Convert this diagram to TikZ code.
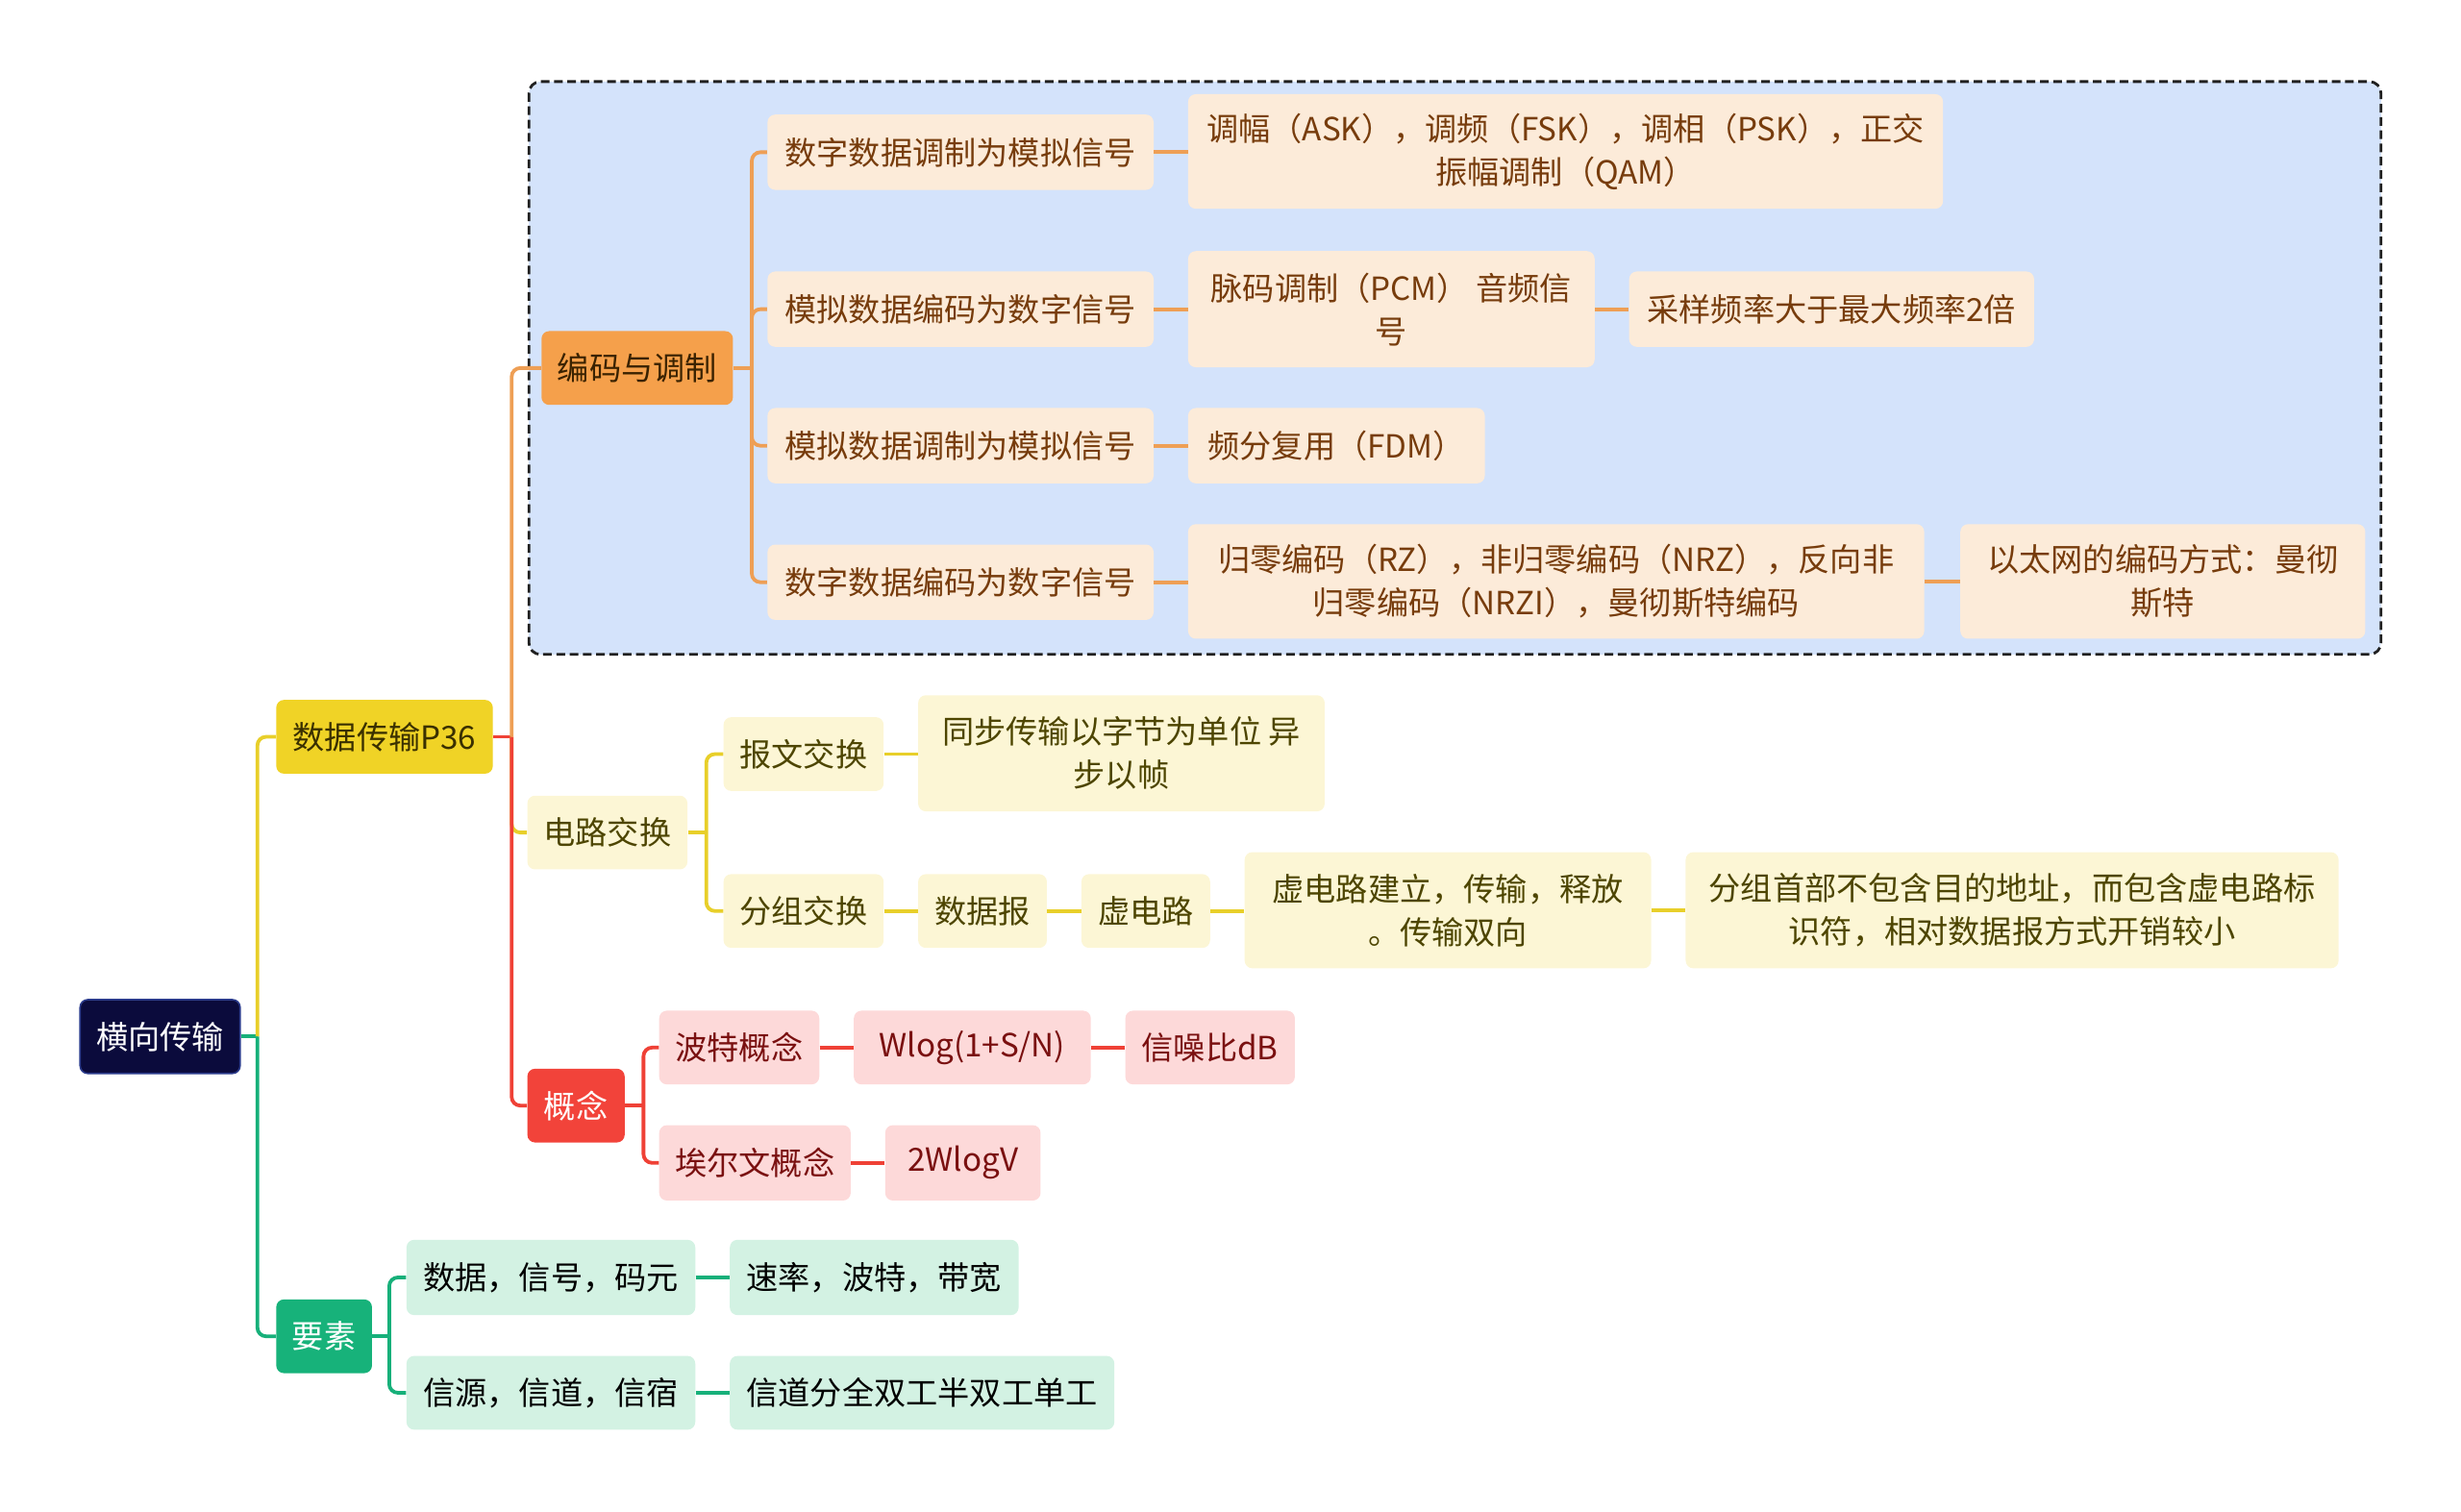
\documentclass[tikz,border=0pt]{standalone}
\usepackage{fontspec}
\newfontfamily\cjk{Noto Sans CJK SC}
\usetikzlibrary{calc}
\definecolor{navy}{HTML}{0B0B3C}
\definecolor{navyb}{HTML}{2A3A8A}
\definecolor{ylw}{HTML}{F0D326}
\definecolor{ytxt}{HTML}{3A3000}
\definecolor{grn}{HTML}{17B27A}
\definecolor{orng}{HTML}{F5A04B}
\definecolor{otxt}{HTML}{3A2200}
\definecolor{pch}{HTML}{FCEBD9}
\definecolor{ptxt}{HTML}{773C0C}
\definecolor{lyl}{HTML}{FCF6D5}
\definecolor{lytxt}{HTML}{4D4500}
\definecolor{rd}{HTML}{F2433A}
\definecolor{pnk}{HTML}{FDD9D9}
\definecolor{pktxt}{HTML}{7A1010}
\definecolor{mnt}{HTML}{D3F2E3}
\definecolor{blu}{HTML}{D4E3FB}
\definecolor{lorange}{HTML}{EE9F55}
\definecolor{lyellow}{HTML}{E8CF2A}
\definecolor{lred}{HTML}{EF4136}
\definecolor{lgreen}{HTML}{17B07A}
\newcommand\bx[7]{\node[#2, minimum width={\fpeval{(#5-(#3))*0.8163}pt}, minimum height={\fpeval{(#6-(#4))*0.8163}pt}] (#1) at ({(#3+#5)/2},{(#4+#6)/2}) {#7};}
\tikzset{
  nb/.style={rounded corners=4pt, inner sep=0pt, align=center, font=\cjk\fontsize{16.6}{22.5}\selectfont},
  rootn/.style={nb, fill=navy, draw=navyb, line width=0.8pt, text=white},
  yeln/.style={nb, fill=ylw, text=ytxt},
  grnn/.style={nb, fill=grn, text=white},
  orgn/.style={nb, fill=orng, text=otxt},
  pchn/.style={nb, fill=pch, text=ptxt},
  lyn/.style={nb, fill=lyl, text=lytxt},
  redn/.style={nb, fill=rd, text=white},
  pkn/.style={nb, fill=pnk, text=pktxt},
  mnn/.style={nb, fill=mnt, text=black},
  ln/.style={line width=1.9pt, rounded corners=4.5pt},
  lo/.style={ln, draw=lorange},
  ly/.style={ln, draw=lyellow},
  lr/.style={ln, draw=lred},
  lg/.style={ln, draw=lgreen},
}
\begin{document}
\begin{tikzpicture}[x=0.8163pt, y=-0.8163pt]
\useasboundingbox (0,0) rectangle (1568,963);
\draw[dash pattern=on 4.5pt off 2.4pt, rounded corners=6pt, fill=blu, draw=black!88, line width=1.4pt] (337,52) rectangle (1517,417);

\bx{root}{rootn}{51}{637}{153}{684}{横向传输}
\bx{sj}{yeln}{176}{446}{314}{493}{数据传输P36}
\bx{ys}{grnn}{176}{828}{237}{875}{要素}
\bx{bm}{orgn}{345}{211}{467}{258}{编码与调制}
\bx{dl}{lyn}{336}{507}{438}{554}{电路交换}
\bx{gn}{redn}{336}{681}{398}{728}{概念}
\bx{a1}{pchn}{489}{73}{735}{121}{数字数据调制为模拟信号}
\bx{a1b}{pchn}{757}{60}{1238}{133}{调幅（ASK），调频（FSK），调相（PSK），正交\\振幅调制（QAM）}
\bx{a2}{pchn}{489}{173}{735}{221}{模拟数据编码为数字信号}
\bx{a2b}{pchn}{757}{160}{1016}{234}{脉码调制（PCM） 音频信\\号}
\bx{a2c}{pchn}{1038}{173}{1296}{221}{采样频率大于最大频率2倍}
\bx{a3}{pchn}{489}{260}{735}{308}{模拟数据调制为模拟信号}
\bx{a3b}{pchn}{757}{260}{946}{308}{频分复用（FDM）}
\bx{a4}{pchn}{489}{347}{735}{395}{数字数据编码为数字信号}
\bx{a4b}{pchn}{757}{334}{1226}{407}{归零编码（RZ），非归零编码（NRZ），反向非\\归零编码（NRZI），曼彻斯特编码}
\bx{a4c}{pchn}{1249}{334}{1507}{407}{以太网的编码方式：曼彻\\斯特}
\bx{b1}{lyn}{461}{457}{563}{504}{报文交换}
\bx{b1b}{lyn}{585}{443}{844}{517}{同步传输以字节为单位 异\\步以帧}
\bx{b2}{lyn}{461}{557}{563}{604}{分组交换}
\bx{b2b}{lyn}{585}{557}{667}{604}{数据报}
\bx{b2c}{lyn}{689}{557}{771}{604}{虚电路}
\bx{b2d}{lyn}{793}{543}{1052}{617}{虚电路建立，传输，释放\\。传输双向}
\bx{b2e}{lyn}{1074}{543}{1490}{617}{分组首部不包含目的地址，而包含虚电路标\\识符，相对数据报方式开销较小}
\bx{c1}{pkn}{420}{644}{522}{691}{波特概念}
\bx{c1b}{pkn}{544}{644}{695}{691}{Wlog(1+S/N)}
\bx{c1c}{pkn}{717}{644}{825}{691}{信噪比dB}
\bx{c2}{pkn}{420}{717}{542}{765}{埃尔文概念}
\bx{c2b}{pkn}{564}{717}{663}{765}{2WlogV}
\bx{d1}{mnn}{259}{790}{443}{838}{数据，信号，码元}
\bx{d1b}{mnn}{465}{790}{649}{838}{速率，波特，带宽}
\bx{d2}{mnn}{259}{864}{443}{911}{信源，信道，信宿}
\bx{d2b}{mnn}{465}{864}{710}{911}{信道分全双工半双工单工}

% trunks
\coordinate (t0) at (164,660.5);
\coordinate (t1) at (326,469.5);
\coordinate (t2) at (479,234.5);
\coordinate (t3) at (450,530.5);
\coordinate (t4) at (410,704.5);
\coordinate (t5) at (248,851.5);

\draw[lg] (root.east) -- (t0);
\draw[ly] (t0) |- (sj.west);
\draw[lg] (t0) |- (ys.west);

\draw[lr] (sj.east) -- (t1);
\draw[lo] (t1) |- (bm.west);
\draw[ly] (t1) |- (dl.west);
\draw[lr] (t1) |- (gn.west);

\draw[lo] (bm.east) -- (t2);
\draw[lo] (t2) |- (a1.west);
\draw[lo] (t2) |- (a2.west);
\draw[lo] (t2) |- (a3.west);
\draw[lo] (t2) |- (a4.west);
\draw[lo] (a1.east) -- (a1.east -| a1b.west);
\draw[lo] (a2.east) -- (a2.east -| a2b.west);
\draw[lo] (a2b.east) -- (a2b.east -| a2c.west);
\draw[lo] (a3.east) -- (a3.east -| a3b.west);
\draw[lo] (a4.east) -- (a4.east -| a4b.west);
\draw[lo] (a4b.east) -- (a4b.east -| a4c.west);

\draw[ly] (dl.east) -- (t3);
\draw[ly] (t3) |- (b1.west);
\draw[ly] (t3) |- (b2.west);
\draw[ly] (b1.east) -- (b1.east -| b1b.west);
\draw[ly] (b2.east) -- (b2.east -| b2b.west);
\draw[ly] (b2b.east) -- (b2b.east -| b2c.west);
\draw[ly] (b2c.east) -- (b2c.east -| b2d.west);
\draw[ly] (b2d.east) -- (b2d.east -| b2e.west);

\draw[lr] (gn.east) -- (t4);
\draw[lr] (t4) |- (c1.west);
\draw[lr] (t4) |- (c2.west);
\draw[lr] (c1.east) -- (c1.east -| c1b.west);
\draw[lr] (c1b.east) -- (c1b.east -| c1c.west);
\draw[lr] (c2.east) -- (c2.east -| c2b.west);

\draw[lg] (ys.east) -- (t5);
\draw[lg] (t5) |- (d1.west);
\draw[lg] (t5) |- (d2.west);
\draw[lg] (d1.east) -- (d1.east -| d1b.west);
\draw[lg] (d2.east) -- (d2.east -| d2b.west);
\end{tikzpicture}
\end{document}
